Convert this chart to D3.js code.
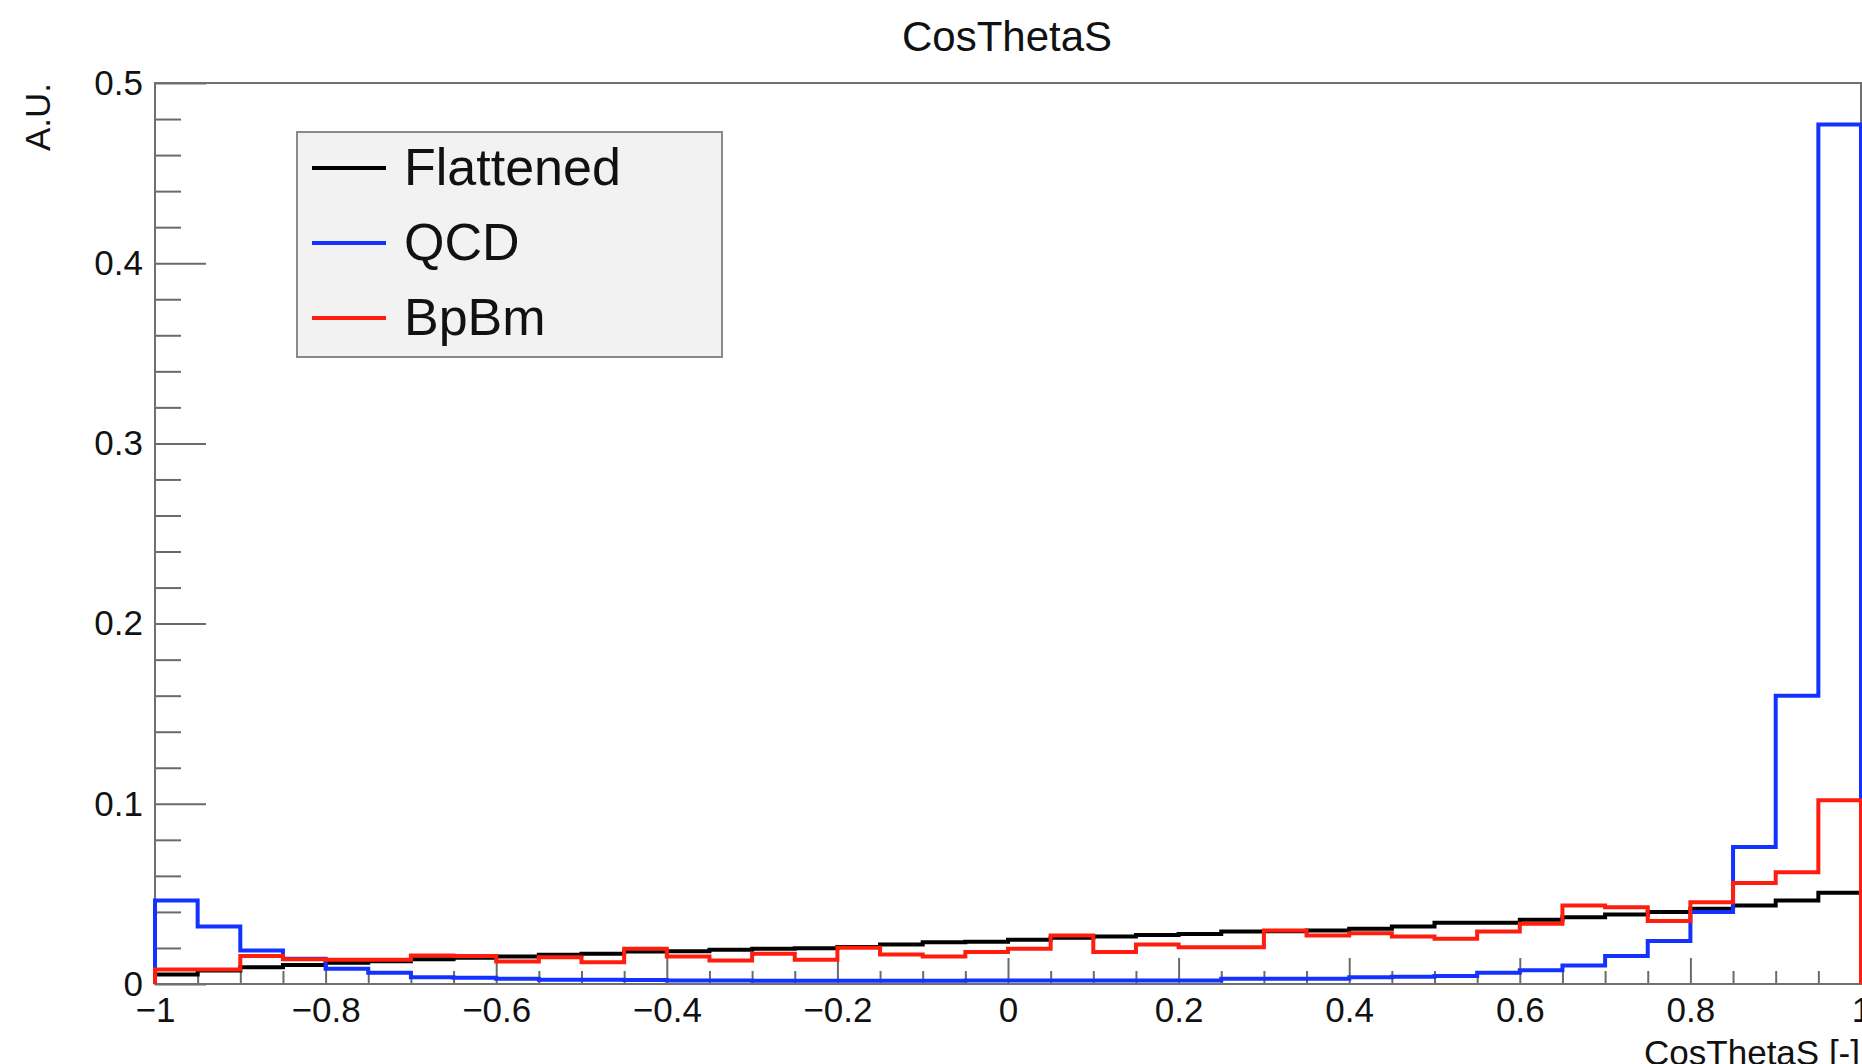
<!DOCTYPE html>
<html>
<head>
<meta charset="utf-8">
<script src="https://cdn.jsdelivr.net/npm/d3@7"></script>
<style>
  html, body { margin: 0; padding: 0; background: #fff; }
  svg { display: block; font-family: "Liberation Sans", Arial, Helvetica, sans-serif; }
</style>
</head>
<body>
<svg id="chart" width="1862" height="1064"></svg>
<script>
// Histogram binning: 40 bins of width 0.05 over [-1, 1]
const binLow = -1, binHigh = 1, nBins = 40;

// Normalised bin contents (A.U.)
const flattened = [
  0.0053, 0.0075, 0.0093, 0.0106, 0.0118, 0.0126, 0.0138, 0.0146, 0.0153, 0.0162,
  0.0168, 0.0180, 0.0182, 0.0190, 0.0195, 0.0199, 0.0206, 0.0219, 0.0232, 0.0234,
  0.0245, 0.0257, 0.0264, 0.0272, 0.0277, 0.0291, 0.0293, 0.0297, 0.0306, 0.0319,
  0.0340, 0.0340, 0.0356, 0.0371, 0.0386, 0.0399, 0.0417, 0.0436, 0.0464, 0.0506
];
const qcd = [
  0.0464, 0.0319, 0.0186, 0.0140, 0.0084, 0.0062, 0.0038, 0.0035, 0.0029, 0.0023,
  0.0023, 0.0022, 0.0019, 0.0019, 0.0018, 0.0018, 0.0018, 0.0018, 0.0018, 0.0019,
  0.0019, 0.0019, 0.0019, 0.0019, 0.0020, 0.0029, 0.0029, 0.0029, 0.0038, 0.0040,
  0.0044, 0.0062, 0.0077, 0.0103, 0.0156, 0.0238, 0.0399, 0.0760, 0.1600, 0.4770
];
const bpbm = [
  0.0080, 0.0080, 0.0155, 0.0138, 0.0134, 0.0134, 0.0158, 0.0155, 0.0125, 0.0149,
  0.0121, 0.0195, 0.0153, 0.0130, 0.0168, 0.0134, 0.0201, 0.0164, 0.0153, 0.0177,
  0.0195, 0.0269, 0.0177, 0.0219, 0.0204, 0.0204, 0.0297, 0.0269, 0.0282, 0.0264,
  0.0251, 0.0291, 0.0334, 0.0436, 0.0426, 0.0349, 0.0454, 0.0560, 0.0620, 0.1020
];

const seriesNames = ["Flattened", "QCD", "BpBm"];
const seriesColors = ["#000000", "#1432ff", "#ff1e0e"];
const seriesValues = [flattened, qcd, bpbm];

// Axis ticks
const xMajorTicks = [-1, -0.8, -0.6, -0.4, -0.2, 0, 0.2, 0.4, 0.6, 0.8, 1];
const yMajorTicks = [0, 0.1, 0.2, 0.3, 0.4, 0.5];

const chartTitle = "CosThetaS";
const xTitle = "CosThetaS [-]";
const yTitle = "A.U.";

const svg = d3.select("#chart");
const frame = { left: 155, right: 1861, top: 83, bottom: 984 };

const x = d3.scaleLinear().domain([binLow, binHigh]).range([frame.left, frame.right]);
const y = d3.scaleLinear().domain([0, 0.5]).range([frame.bottom, frame.top]);

const binWidth = (binHigh - binLow) / nBins;
const binEdges = d3.range(nBins + 1).map(i => binLow + i * binWidth);

// Minor tick values
const xMinorTicks = binEdges.filter(v => !xMajorTicks.some(t => Math.abs(t - v) < 1e-9));
const yMinorTicks = d3.range(0, 0.5001, 0.02).filter(v => !yMajorTicks.some(t => Math.abs(t - v) < 1e-9));

const fmt = d3.format("~g");
const tickColor = "#6a6a6a";

// Y axis: major ticks pointing into the frame, labels outside
const yAxisMajor = svg.append("g")
  .attr("transform", `translate(${frame.left},0)`)
  .call(d3.axisLeft(y).tickValues(yMajorTicks).tickSize(-51).tickPadding(12).tickFormat(fmt));
const yAxisMinor = svg.append("g")
  .attr("transform", `translate(${frame.left},0)`)
  .call(d3.axisLeft(y).tickValues(yMinorTicks).tickSize(-26).tickFormat(""));

// X axis: ticks pointing up into the frame
const xAxisMajor = svg.append("g")
  .attr("transform", `translate(0,${frame.bottom})`)
  .call(d3.axisBottom(x).tickValues(xMajorTicks).tickSize(-26).tickPadding(13).tickFormat(fmt));
const xAxisMinor = svg.append("g")
  .attr("transform", `translate(0,${frame.bottom})`)
  .call(d3.axisBottom(x).tickValues(xMinorTicks).tickSize(-13).tickFormat(""));

[yAxisMajor, yAxisMinor, xAxisMajor, xAxisMinor].forEach(g => {
  g.select(".domain").remove();
  g.selectAll(".tick line").attr("stroke", tickColor).attr("stroke-width", 2);
  g.selectAll(".tick text").attr("fill", "#111").style("font-size", "35px");
});

// Frame
svg.append("rect")
  .attr("x", frame.left).attr("y", frame.top)
  .attr("width", frame.right - frame.left).attr("height", frame.bottom - frame.top)
  .attr("fill", "none").attr("stroke", "#707070").attr("stroke-width", 2);

// Step outlines for each histogram
function stepPoints(values) {
  const pts = [[binEdges[0], 0]];
  values.forEach((v, i) => {
    pts.push([binEdges[i], v]);
    pts.push([binEdges[i + 1], v]);
  });
  pts.push([binEdges[nBins], 0]);
  return pts;
}
const line = d3.line().x(d => x(d[0])).y(d => y(d[1]));

svg.append("g").selectAll("path")
  .data(seriesValues)
  .join("path")
  .attr("d", d => line(stepPoints(d)))
  .attr("fill", "none")
  .attr("stroke", (d, i) => seriesColors[i])
  .attr("stroke-width", 4)
  .attr("stroke-linejoin", "miter");

// Title
svg.append("text")
  .attr("x", 1007).attr("y", 51)
  .attr("text-anchor", "middle")
  .style("font-size", "42px")
  .attr("fill", "#111")
  .text(chartTitle);

// Axis titles
svg.append("text")
  .attr("x", 1860).attr("y", 1065)
  .attr("text-anchor", "end")
  .style("font-size", "35px")
  .attr("fill", "#111")
  .text(xTitle);

svg.append("text")
  .attr("transform", "translate(50,83) rotate(-90)")
  .attr("text-anchor", "end")
  .style("font-size", "35px")
  .attr("fill", "#111")
  .text(yTitle);

// Legend
const legend = svg.append("g");
legend.append("rect")
  .attr("x", 297).attr("y", 132).attr("width", 425).attr("height", 225)
  .attr("fill", "#f2f2f2").attr("stroke", "#8a8a8a").attr("stroke-width", 2);

const legendRows = legend.selectAll("g.row")
  .data(seriesNames)
  .join("g")
  .attr("class", "row")
  .attr("transform", (d, i) => `translate(0,${185 + i * 75})`);

legendRows.append("line")
  .attr("x1", 312).attr("x2", 386)
  .attr("y1", -17).attr("y2", -17)
  .attr("stroke", (d, i) => seriesColors[i])
  .attr("stroke-width", 4);

legendRows.append("text")
  .attr("x", 404).attr("y", 0)
  .style("font-size", "52px")
  .attr("fill", "#111")
  .text(d => d);
</script>
</body>
</html>
